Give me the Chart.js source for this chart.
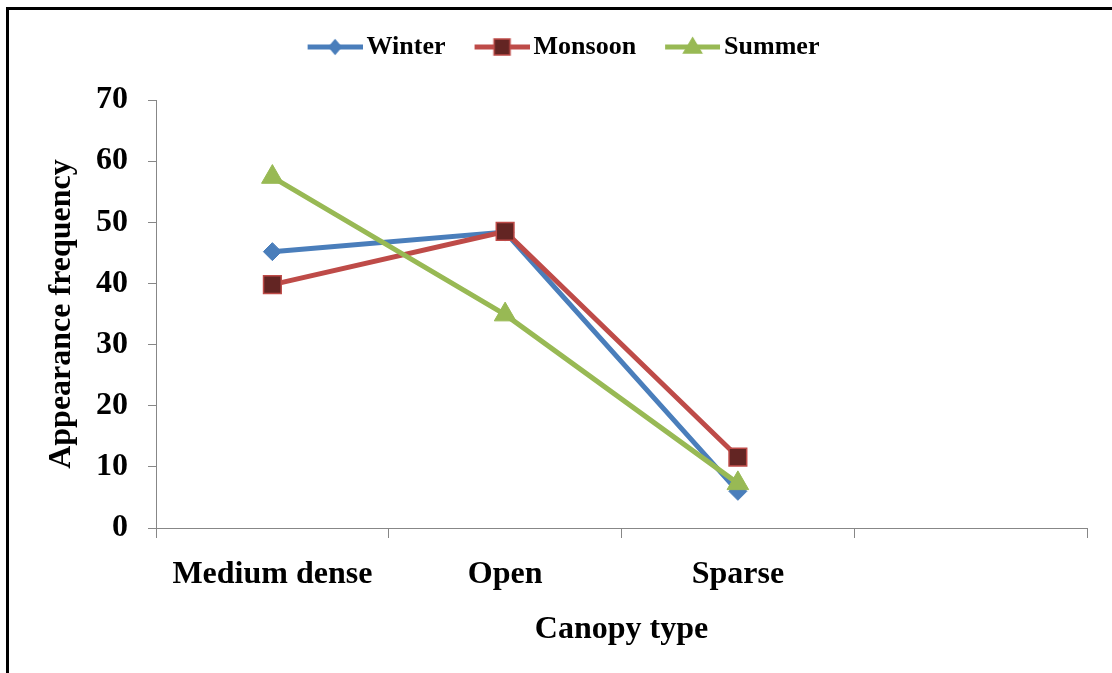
<!DOCTYPE html>
<html>
<head>
<meta charset="utf-8">
<script src="https://cdn.jsdelivr.net/npm/chart.js@4.4.1/dist/chart.umd.min.js"></script>
<style>
  html, body { margin: 0; padding: 0; background: #fff; }
  #wrap { width: 1112px; height: 673px; }
</style>
</head>
<body>
<div id="wrap"><canvas id="lineChart" width="1112" height="673"></canvas></div>
<script>
"use strict";

// data
var categories = ['Medium dense', 'Open', 'Sparse', ''];
var winter = [45.2, 48.4, 6.0, null];
var monsoon = [39.8, 48.5, 11.6, null];
var summer = [57.4, 34.9, 7.3, null];
var yMin = 0, yMax = 70, yStep = 10;

var serif = '"Liberation Serif", "Times New Roman", serif';
var axisGrey = '#878787';

// legend icon: short line with marker in the middle, like the office charts
function MakeLegendIcon(lineColor, shape, fill, border) {
	var c = document.createElement('canvas');
	c.width = 64;
	c.height = 26;
	var ctx = c.getContext('2d');
	ctx.strokeStyle = lineColor;
	ctx.lineWidth = 5;
	ctx.beginPath();
	ctx.moveTo(9, 13);
	ctx.lineTo(64, 13);
	ctx.stroke();
	var cx = 36.5, cy = 13;
	ctx.fillStyle = fill;
	ctx.strokeStyle = border;
	ctx.lineWidth = 1.5;
	ctx.beginPath();
	if (shape === 'diamond') {
		ctx.moveTo(cx, cy - 7); ctx.lineTo(cx + 6, cy); ctx.lineTo(cx, cy + 7); ctx.lineTo(cx - 6, cy);
	} else if (shape === 'square') {
		ctx.rect(cx - 8, cy - 8, 16, 16);
	} else {
		ctx.moveTo(cx, cy - 9); ctx.lineTo(cx + 9, cy + 6); ctx.lineTo(cx - 9, cy + 6);
	}
	ctx.closePath();
	ctx.fill();
	ctx.stroke();
	return c;
}

var legendIcons = [
	MakeLegendIcon('#4A7EBB', 'diamond', '#4A7EBB', '#4A7EBB'),
	MakeLegendIcon('#BE4B48', 'square', '#632523', '#BE4B48'),
	MakeLegendIcon('#98B954', 'triangle', '#98B954', '#98B954')
];

// black frame on top and left, plus extra room under the legend
var framePlugin = {
	id: 'frame',
	beforeLayout: function (chart) {
		var lg = chart.legend;
		if (lg && !lg._patched) {
			var fit = lg.fit.bind(lg);
			lg.fit = function () { fit(); this.height += 30; };
			lg._patched = true;
		}
	},
	afterDraw: function (chart) {
		var ctx = chart.ctx;
		ctx.save();
		ctx.strokeStyle = '#000';
		ctx.lineWidth = 3;
		ctx.beginPath();
		ctx.moveTo(6, 8.5);
		ctx.lineTo(1112, 8.5);
		ctx.moveTo(7.5, 7);
		ctx.lineTo(7.5, 673);
		ctx.stroke();
		ctx.restore();
	}
};

const context = document.getElementById('lineChart');
const myChart = new Chart(context, {
	type: 'line',
	data: {
		labels: categories,
		datasets: [{
			label: 'Winter',
			data: winter,
			order: 2,
			borderColor: '#4A7EBB',
			backgroundColor: '#4A7EBB',
			borderWidth: 5,
			pointStyle: 'rectRot',
			pointRadius: 9,
			pointBorderWidth: 1,
			pointBackgroundColor: '#4A7EBB',
			pointBorderColor: '#4A7EBB'
		}, {
			label: 'Monsoon',
			data: monsoon,
			order: 1,
			borderColor: '#BE4B48',
			backgroundColor: '#632523',
			borderWidth: 5,
			pointStyle: 'rect',
			pointRadius: 12.5,
			pointBorderWidth: 1.5,
			pointBackgroundColor: '#632523',
			pointBorderColor: '#BE4B48'
		}, {
			label: 'Summer',
			data: summer,
			order: 0,
			borderColor: '#98B954',
			backgroundColor: '#98B954',
			borderWidth: 5,
			pointStyle: 'triangle',
			pointRadius: 12.5,
			pointBorderWidth: 1,
			pointBackgroundColor: '#98B954',
			pointBorderColor: '#98B954'
		}]
	},
	plugins: [framePlugin],
	options: {
		responsive: false,
		animation: false,
		layout: { padding: { left: 40, top: 5, right: 25, bottom: 0 } },
		plugins: {
			tooltip: { enabled: false },
			legend: {
				position: 'top',
				labels: {
					usePointStyle: true,
					pointStyleWidth: 46,
					padding: 29,
					color: '#000',
					font: { family: serif, size: 26, weight: 'bold' },
					sort: function (a, b) { return a.datasetIndex - b.datasetIndex; },
					generateLabels: function (chart) {
						var items = Chart.defaults.plugins.legend.labels.generateLabels(chart);
						items.forEach(function (item) { item.pointStyle = legendIcons[item.datasetIndex]; });
						return items;
					}
				}
			}
		},
		scales: {
			x: {
				offset: true,
				grid: {
					display: true,
					offset: true,
					drawOnChartArea: false,
					drawTicks: true,
					tickLength: 10,
					color: axisGrey
				},
				border: { display: true, color: axisGrey, width: 1 },
				ticks: {
					color: '#000',
					padding: 18,
					maxRotation: 0,
					autoSkip: false,
					font: { family: serif, size: 32, weight: 'bold' }
				},
				title: {
					display: true,
					text: 'Canopy type',
					color: '#000',
					padding: { top: 0, bottom: 24 },
					font: { family: serif, size: 32, weight: 'bold' }
				},
				afterFit: function (scale) { scale.height = 145; }
			},
			y: {
				min: yMin,
				max: yMax,
				grid: {
					display: true,
					drawOnChartArea: false,
					drawTicks: true,
					tickLength: 8,
					color: axisGrey
				},
				border: { display: true, color: axisGrey, width: 1 },
				ticks: {
					stepSize: yStep,
					color: '#000',
					padding: 20,
					font: { family: serif, size: 32, weight: 'bold' }
				},
				title: {
					display: true,
					text: 'Appearance frequency',
					color: '#000',
					padding: { top: 3, bottom: 0 },
					font: { family: serif, size: 32, weight: 'bold' }
				},
				afterFit: function (scale) { scale.width = 116; }
			}
		}
	}
});
</script>
</body>
</html>
